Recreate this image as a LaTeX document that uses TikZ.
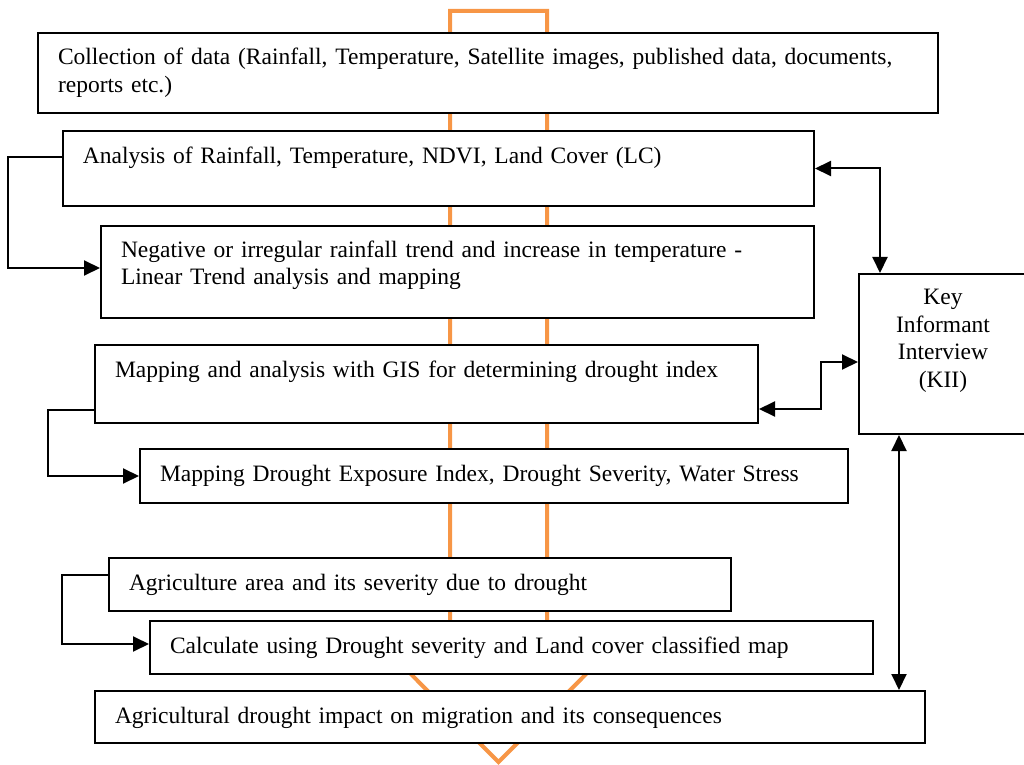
\documentclass[tikz,border=0pt]{standalone}
\usepackage{fontspec}
\setmainfont{Liberation Serif}
\usetikzlibrary{arrows.meta}
\definecolor{flow}{HTML}{F79646}
\begin{document}
\begin{tikzpicture}[x=0.5pt,y=-0.5pt,
  box/.style={draw=black, line width=1pt, fill=white, anchor=north west,
    inner xsep=10pt, inner ysep=0pt, align=left,
    font=\fontsize{11.75pt}{13.7pt}\selectfont},
  conn/.style={draw=black, line width=1pt, -{Triangle[length=8pt,width=7.5pt]}},
  conn2/.style={draw=black, line width=1pt,
    {Triangle[length=8pt,width=7.5pt]}-{Triangle[length=8pt,width=7.5pt]}},
  flowarrow/.style={draw=flow, line width=2pt, line join=miter}]
\useasboundingbox (0,0) rectangle (1024,765);
% big orange flow arrow in the background
\draw[flowarrow] (450,638) -- (450,11) -- (547,11) -- (547,638) -- (622,638)
  -- (498.5,762) -- (375,638) -- cycle;
% boxes
\node[box, text width=430pt, text height=16pt, text depth=24pt] (b1) at (37,32)
  {Collection of data (Rainfall, Temperature, Satellite images, published data, documents,\\reports etc.)};
\node[box, text width=355.5pt, text height=16.5pt, text depth=21pt] (b2) at (62,130)
  {Analysis of Rainfall, Temperature, NDVI, Land Cover (LC)};
\node[box, text width=336.5pt, text height=15.5pt, text depth=30.5pt] (b3) at (100,225)
  {Negative or irregular rainfall trend and increase in temperature -\\Linear Trend analysis and mapping};
\node[box, text width=311.5pt, text height=16pt, text depth=23pt] (b4) at (94,344)
  {Mapping and analysis with GIS for determining drought index};
\node[box, text width=334pt, text height=16pt, text depth=11pt] (b5) at (139,448)
  {Mapping Drought Exposure Index, Drought Severity, Water Stress};
\node[box, text width=291pt, text height=16pt, text depth=10.5pt] (b6) at (108,557)
  {Agriculture area and its severity due to drought};
\node[box, text width=341.5pt, text height=16pt, text depth=10.5pt] (b7) at (149,620)
  {Calculate using Drought severity and Land cover classified map};
\node[box, text width=395pt, text height=16pt, text depth=10pt] (b8) at (94,690)
  {Agricultural drought impact on migration and its consequences};
\node[box, align=center, text width=68pt, inner xsep=8pt, text height=15.5pt, text depth=64.5pt] (kii) at (858,273)
  {Key\\Informant\\Interview\\(KII)};
% connectors
\draw[conn] ([yshift=5.75pt]b2.west) -- ++(-54,0) |- ([yshift=2pt]b3.west);
\draw[conn] ([yshift=-13pt]b4.west) -- ++(-46,0) |- (b5.west);
\draw[conn] ([yshift=4.75pt]b6.west) -- ++(-46,0) |- ([yshift=1.75pt]b7.west);
\draw[conn2] (b2.east) -| ([xshift=-31.5pt]kii.north);
\draw[conn2] ([yshift=-12.5pt]b4.east) -- ++(62,0) |- ([yshift=-4pt]kii.west);
\coordinate (k6) at ([xshift=-22pt]kii.south);
\draw[conn2] (k6) -- (k6 |- b8.north);
\end{tikzpicture}
\end{document}
